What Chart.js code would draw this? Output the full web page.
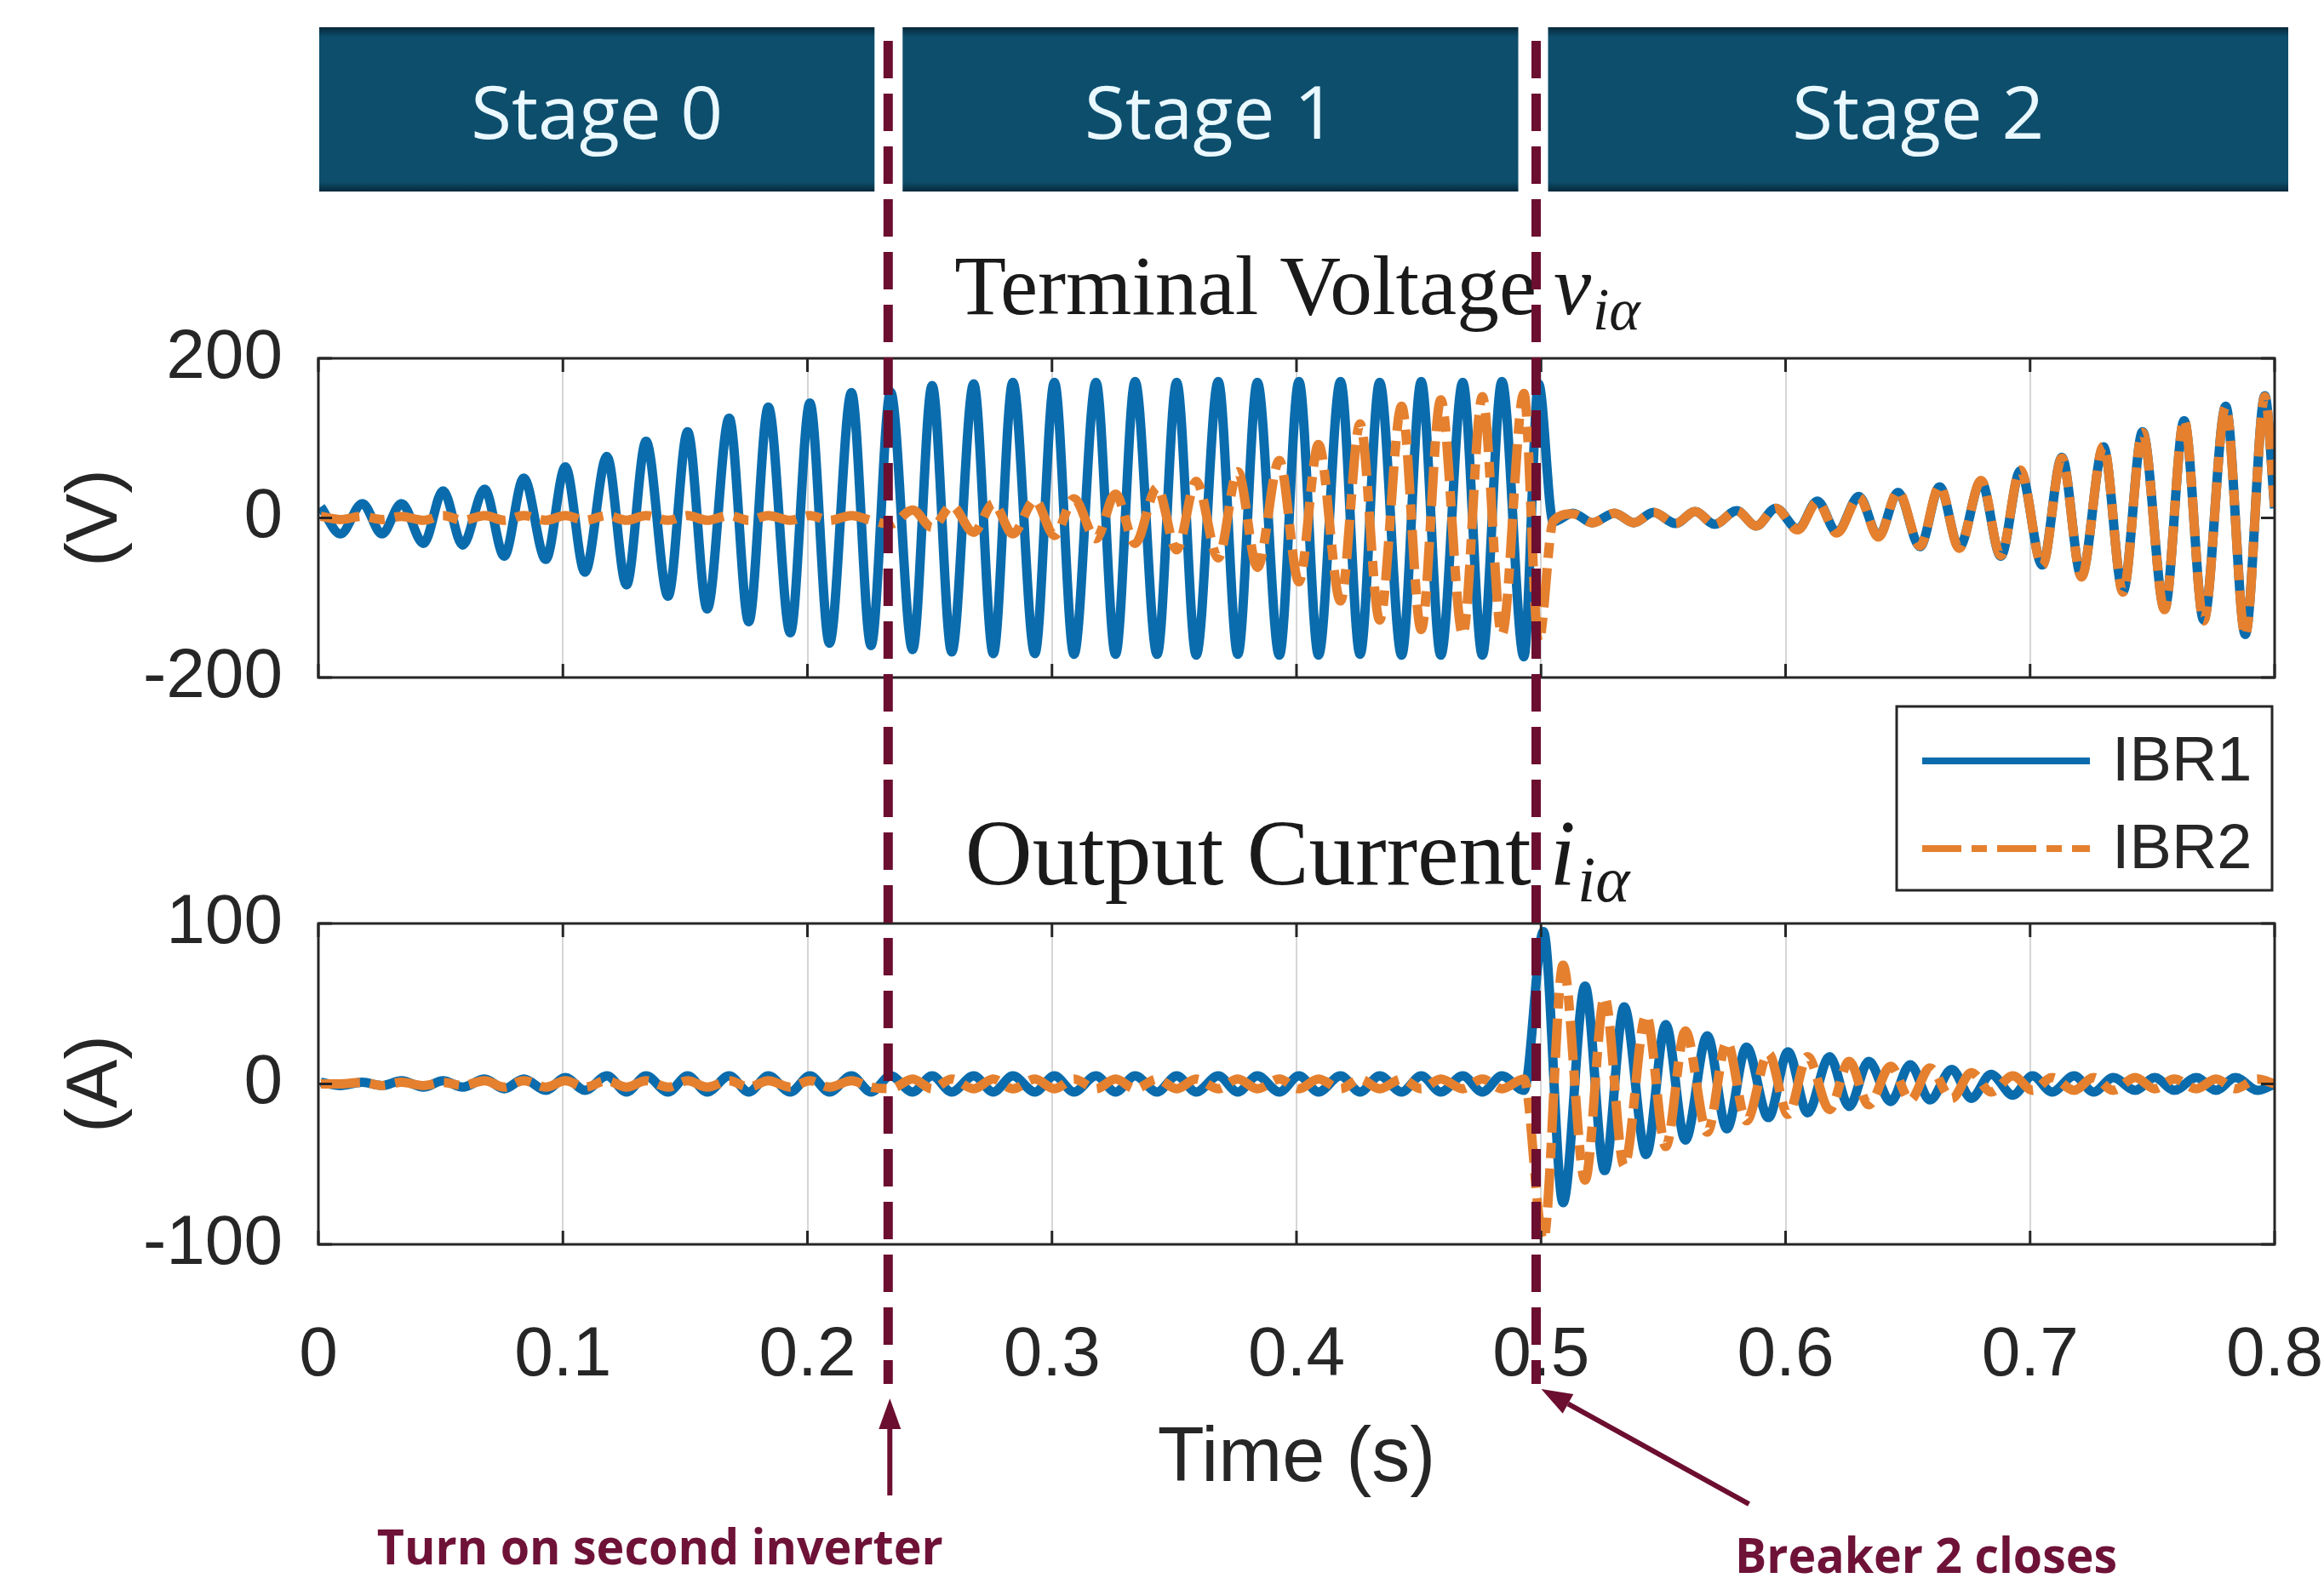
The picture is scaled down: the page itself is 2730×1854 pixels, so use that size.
<!DOCTYPE html>
<html>
<head>
<meta charset="utf-8">
<script src="https://cdn.jsdelivr.net/npm/chart.js@4.4.1/dist/chart.umd.min.js"></script>
<style>
  html, body { margin: 0; padding: 0; background: #fff; }
  #wrap { position: relative; width: 2730px; height: 1854px; }
  #wrap canvas { position: absolute; left: 0; top: 0; }
</style>
</head>
<body>
<div id="wrap">
  <canvas id="voltage" width="2730" height="1854"></canvas>
  <canvas id="current" width="2730" height="1854"></canvas>
</div>
<script>
// ---- values (extrema of each half cycle, 60 Hz) ----
const timeV = [
  0.001, 0.009, 0.018, 0.026, 0.034, 0.043, 0.051, 0.059, 0.068, 0.076, 0.084, 0.093,
  0.101, 0.109, 0.118, 0.126, 0.134, 0.143, 0.151, 0.159, 0.168, 0.176, 0.184, 0.193,
  0.201, 0.209, 0.218, 0.226, 0.234, 0.243, 0.251, 0.259, 0.268, 0.276, 0.284, 0.293,
  0.301, 0.309, 0.318, 0.326, 0.334, 0.343, 0.351, 0.359, 0.368, 0.376, 0.384, 0.393,
  0.401, 0.409, 0.418, 0.426, 0.434, 0.443, 0.451, 0.459, 0.468, 0.476, 0.484, 0.493,
  0.499,
  0.505, 0.513, 0.521, 0.530, 0.538, 0.546, 0.555, 0.563, 0.571, 0.580, 0.588, 0.596,
  0.605, 0.613, 0.621, 0.630, 0.638, 0.646, 0.655, 0.663, 0.671, 0.680, 0.688, 0.696,
  0.705, 0.713, 0.721, 0.730, 0.738, 0.746, 0.755, 0.763, 0.771, 0.780, 0.788, 0.796,
  0.800
];
const vIBR1 = [
  14, -20, 18, -20, 18, -32, 34, -34, 36, -48, 50, -52,
  64, -68, 77, -84, 96, -98, 108, -114, 125, -130, 139, -144,
  144, -157, 157, -160, 158, -165, 166, -168, 168, -170, 170, -170,
  170, -171, 170, -171, 171, -171, 170, -172, 171, -171, 170, -172,
  171, -172, 171, -171, 170, -172, 171, -172, 170, -172, 171, -174,
  168,
  -5, 6, -6, 6, -6, 7, -7, 8, -8, 9, -10, 12,
  -14, 21, -18, 27, -23, 32, -36, 39, -37, 46, -48, 59,
  -59, 76, -73, 89, -92, 108, -114, 122, -128, 140, -146, 153,
  12
];
const vIBR2 = [
  2, -2, 2, -2, 2, -3, 3, -3, 3, -3, 3, -3,
  3, -3, 3, -3, 3, -3, 3, -3, 3, -3, 3, -3,
  3, -3, 3, -3, -8, 10, -12, 15, -18, 18, -20, 22,
  -22, 24, -26, 30, -32, 38, -40, 46, -50, 58, -62, 72,
  -80, 92, -104, 118, -128, 140, -140, 148, -146, 152, -146, 156,
  -155,
  -4, 5, -6, 6, -6, 7, -7, 8, -8, 9, -10, 12,
  -15, 20, -19, 26, -24, 33, -35, 40, -38, 47, -47, 60,
  -60, 75, -74, 90, -93, 107, -115, 123, -129, 139, -147, 152,
  14
];

const timeI = [
  0.001, 0.009, 0.018, 0.026, 0.034, 0.043, 0.051, 0.059, 0.068, 0.076, 0.084, 0.093,
  0.101, 0.109, 0.118, 0.126, 0.134, 0.143, 0.151, 0.159, 0.168, 0.176, 0.184, 0.193,
  0.201, 0.209, 0.218, 0.226, 0.234, 0.243, 0.251, 0.259, 0.268, 0.276, 0.284, 0.293,
  0.301, 0.309, 0.318, 0.326, 0.334, 0.343, 0.351, 0.359, 0.368, 0.376, 0.384, 0.393,
  0.401, 0.409, 0.418, 0.426, 0.434, 0.443, 0.451, 0.459, 0.468, 0.476, 0.484, 0.493,
  0.501, 0.509, 0.518, 0.526, 0.534, 0.543, 0.551, 0.559, 0.568, 0.576, 0.584, 0.593,
  0.601, 0.609, 0.618, 0.626, 0.634, 0.643, 0.651, 0.659, 0.668, 0.676, 0.684, 0.693,
  0.701, 0.709, 0.718, 0.726, 0.734, 0.743, 0.751, 0.759, 0.768, 0.776, 0.784, 0.793,
  0.800
];
const iIBR1 = [
  1, -1, 1, -1, 2, -2, 2, -2, 3, -3, 3, -4,
  4, -4, 5, -5, 5, -5, 5, -5, 5, -5, 5, -5,
  5, -5, 5, -5, 5, -5, 5, -5, 5, -5, 5, -5,
  5, -5, 5, -5, 5, -5, 5, -5, 5, -5, 5, -5,
  5, -5, 5, -5, 5, -5, 5, -5, 5, -5, 5, -4,
  95, -74, 61, -54, 48, -44, 37, -35, 30, -28, 23, -21,
  20, -18, 17, -14, 14, -11, 12, -10, 9, -9, 6, -7,
  5, -5, 5, -5, 4, -4, 4, -4, 4, -4, 4, -4,
  0
];
const iIBR2 = [
  0, 0, 1, -1, 1, -1, 1, -1, 2, -2, 2, -2,
  2, -2, 2, -2, 2, -2, 2, -2, 2, -2, 2, -2,
  2, -2, 2, -2, -3, 3, -3, 3, -3, 3, -3, 3,
  -3, 3, -3, 3, -3, 3, -3, 3, -3, 3, -3, 3,
  -3, 3, -3, 3, -3, 3, -3, 3, -3, 3, -3, 3,
  -97, 74, -60, 54, -51, 43, -39, 33, -30, 26, -23, 19,
  -19, 17, -16, 14, -13, 11, -10, 10, -9, 7, -5, 5,
  -4, 4, -4, 4, -4, 4, -3, 3, -3, 3, -3, 3,
  0
];

const xTicks = [0, 0.1, 0.2, 0.3, 0.4, 0.5, 0.6, 0.7, 0.8];
const voltTicks = [-200, 0, 200];
const currTicks = [-100, 0, 100];
const seriesNames = ['IBR1', 'IBR2'];
const stageNames = ['Stage 0', 'Stage 1', 'Stage 2'];
const eventTimes = [0.233, 0.498];
const eventNotes = ['Turn on second inverter', 'Breaker 2 closes'];

// ---- style ----
const BLUE = '#0a6cad';
const ORANGE = '#e5802f';
const MAROON = '#6c0e30';
const INK = '#262626';
const GRID = '#d6d6d6';
const DASHDOT = [46, 12, 18, 12];
const H = 1854;

Chart.defaults.font.family = '"Liberation Sans", Arial, sans-serif';

function series(times, values, name, color, dash, order) {
  return {
    label: name,
    data: times.map((t, i) => ({ x: t, y: values[i] })),
    borderColor: color,
    borderWidth: 11,
    borderDash: dash,
    borderCapStyle: 'butt',
    borderJoinStyle: 'round',
    cubicInterpolationMode: 'monotone',
    pointRadius: 0,
    fill: false,
    order: order
  };
}

function panelOptions({ yTicks, yTitle, top, bottom, xLabels }) {
  return {
    responsive: false,
    animation: false,
    devicePixelRatio: 1,
    layout: { autoPadding: false, padding: { left: 0, right: 58, top: top, bottom: xLabels ? 0 : H - bottom } },
    plugins: { legend: { display: false }, tooltip: { enabled: false } },
    scales: {
      x: {
        type: 'linear',
        min: xTicks[0],
        max: xTicks[xTicks.length - 1],
        afterBuildTicks: s => { s.ticks = xTicks.map(v => ({ value: v })); },
        afterFit: s => { s.height = xLabels ? H - bottom : 0; },
        // the (invisible) tick length sets the gap above the labels
        grid: { color: GRID, lineWidth: 2, drawTicks: true, tickLength: 82, tickColor: 'rgba(0,0,0,0)' },
        border: { display: false },
        ticks: {
          display: xLabels, padding: 0, maxRotation: 0, autoSkip: false,
          color: INK, font: { size: 82 },
          callback: v => String(Math.round(v * 10) / 10)
        },
        title: { display: xLabels, text: 'Time (s)', color: INK, font: { size: 90 }, padding: { top: 0, bottom: 85 } }
      },
      y: {
        min: yTicks[0],
        max: yTicks[yTicks.length - 1],
        afterBuildTicks: s => { s.ticks = yTicks.map(v => ({ value: v })); },
        afterFit: s => { s.width = 374; },
        grid: { display: false },
        border: { display: false },
        ticks: { padding: 34, color: INK, font: { size: 82 } },
        title: { display: true, text: yTitle, color: INK, font: { size: 86 }, padding: { top: 62, bottom: 0 } }
      }
    }
  };
}

// box round the axes with MATLAB style inward ticks
const axesFrame = {
  id: 'axesFrame',
  afterDatasetsDraw(chart) {
    const { ctx, chartArea: a, scales: { x, y } } = chart;
    ctx.save();
    ctx.strokeStyle = INK;
    ctx.lineWidth = 3;
    ctx.beginPath();
    x.ticks.forEach(t => {
      const px = x.getPixelForValue(t.value);
      ctx.moveTo(px, a.bottom); ctx.lineTo(px, a.bottom - 16);
      ctx.moveTo(px, a.top); ctx.lineTo(px, a.top + 16);
    });
    y.ticks.forEach(t => {
      const py = y.getPixelForValue(t.value);
      ctx.moveTo(a.left, py); ctx.lineTo(a.left + 16, py);
      ctx.moveTo(a.right, py); ctx.lineTo(a.right - 16, py);
    });
    ctx.stroke();
    ctx.strokeRect(a.left, a.top, a.right - a.left, a.bottom - a.top);
    ctx.restore();
  }
};

// serif title with an italic symbol and subscript; words fitted to the measured width
function subplotTitle(words, sym, sub, wordsWidth, lift) {
  return {
    id: 'subplotTitle',
    afterDraw(chart) {
      const { ctx, chartArea: a } = chart;
      ctx.save();
      ctx.font = '100px "Liberation Serif"';
      const size = 100 * wordsWidth / ctx.measureText(words).width;
      const main = `${size}px "Liberation Serif"`;
      const ital = `italic ${size}px "Liberation Serif"`;
      const small = `italic ${size * 0.7}px "Liberation Serif"`;
      ctx.font = main; const w1 = ctx.measureText(words).width;
      ctx.font = ital; const w2 = ctx.measureText(sym).width;
      ctx.font = small; const w3 = ctx.measureText(sub).width;
      const gap = size * 0.2;
      let x0 = (a.left + a.right) / 2 - (w1 + gap + w2 + w3) / 2;
      const base = a.top - lift;
      ctx.fillStyle = '#1a1a1a';
      ctx.textAlign = 'left';
      ctx.textBaseline = 'alphabetic';
      ctx.font = main; ctx.fillText(words, x0, base); x0 += w1 + gap;
      ctx.font = ital; ctx.fillText(sym, x0, base); x0 += w2 + size * 0.02;
      ctx.font = small; ctx.fillText(sub, x0, base + size * 0.18);
      ctx.restore();
    }
  };
}

function drawScaledText(ctx, text, cx, baseline, sx, font, color) {
  ctx.save();
  ctx.font = font;
  ctx.translate(cx, baseline);
  ctx.scale(sx, 1);
  ctx.fillStyle = color;
  ctx.textAlign = 'center';
  ctx.textBaseline = 'alphabetic';
  ctx.fillText(text, 0, 0);
  ctx.restore();
}

const stageBanner = {
  id: 'stageBanner',
  afterDraw(chart) {
    const { ctx, scales: { x } } = chart;
    const e = [x.getPixelForValue(xTicks[0]), x.getPixelForValue(eventTimes[0]),
               x.getPixelForValue(eventTimes[1]), x.getPixelForValue(xTicks[xTicks.length - 1])];
    const boxes = [[e[0] + 1, e[1] - 16], [e[1] + 17, e[2] - 21], [e[2] + 14, e[3] + 16]];
    const top = 32, bottom = 225;
    const font = '400 86px "Open Sans"';
    ctx.save();
    ctx.font = font;
    const sx = 296 / ctx.measureText(stageNames[0]).width;
    boxes.forEach(([l, r], i) => {
      const g = ctx.createLinearGradient(0, top, 0, bottom);
      g.addColorStop(0, '#06283a');
      g.addColorStop(0.06, '#0d4e6c');
      g.addColorStop(0.94, '#0d4e6c');
      g.addColorStop(1, '#06283a');
      ctx.fillStyle = g;
      ctx.fillRect(l, top, r - l, bottom - top);
      drawScaledText(ctx, stageNames[i], (l + r) / 2, 163, sx, font, '#eaf8ff');
    });
    ctx.restore();
  }
};

const legendBox = {
  id: 'legendBox',
  afterDraw(chart) {
    const { ctx, chartArea: a } = chart;
    const l = a.right - 444, r = a.right - 3, t = a.bottom + 34, b = a.bottom + 250;
    ctx.save();
    ctx.fillStyle = '#fff';
    ctx.fillRect(l, t, r - l, b - t);
    ctx.strokeStyle = INK;
    ctx.lineWidth = 3;
    ctx.strokeRect(l, t, r - l, b - t);
    const order = chart.data.datasets.slice().sort((p, q) => p.label.localeCompare(q.label));
    order.forEach((ds, i) => {
      const y = t + 64 + i * 103;
      ctx.strokeStyle = ds.borderColor;
      ctx.lineWidth = 8;
      ctx.setLineDash(ds.borderDash || []);
      ctx.beginPath(); ctx.moveTo(l + 30, y); ctx.lineTo(l + 227, y); ctx.stroke();
      ctx.setLineDash([]);
      ctx.fillStyle = INK;
      ctx.font = '74px "Liberation Sans"';
      ctx.textAlign = 'left';
      ctx.textBaseline = 'middle';
      ctx.fillText(ds.label, l + 253, y + 3);
    });
    ctx.restore();
  }
};

function arrow(ctx, x0, y0, x1, y1) {
  const ang = Math.atan2(y1 - y0, x1 - x0), L = 36, W = 13;
  const bx = x1 - L * Math.cos(ang), by = y1 - L * Math.sin(ang);
  ctx.beginPath(); ctx.moveTo(x0, y0); ctx.lineTo(bx, by); ctx.stroke();
  ctx.beginPath();
  ctx.moveTo(x1, y1);
  ctx.lineTo(bx + W * Math.sin(ang), by - W * Math.cos(ang));
  ctx.lineTo(bx - W * Math.sin(ang), by + W * Math.cos(ang));
  ctx.closePath();
  ctx.fill();
}

const eventMarks = {
  id: 'eventMarks',
  afterDraw(chart) {
    const { ctx, scales: { x } } = chart;
    const p = eventTimes.map(t => x.getPixelForValue(t));
    ctx.save();
    ctx.strokeStyle = MAROON;
    ctx.lineWidth = 11;
    ctx.setLineDash([44, 18]);
    p.forEach(px => { ctx.beginPath(); ctx.moveTo(px, 48); ctx.lineTo(px, 1626); ctx.stroke(); });
    ctx.setLineDash([]);
    ctx.strokeStyle = MAROON;
    ctx.fillStyle = MAROON;
    ctx.lineWidth = 6;
    arrow(ctx, p[0] + 2, 1757, p[0] + 2, 1643);
    arrow(ctx, p[1] + 250, 1767, p[1] + 6, 1632);
    const font = '700 58px "Open Sans"';
    ctx.font = font;
    const s0 = 665 / ctx.measureText(eventNotes[0]).width;
    const s1 = 449 / ctx.measureText(eventNotes[1]).width;
    drawScaledText(ctx, eventNotes[0], p[0] - 268, 1838, s0, font, '#6e1238');
    drawScaledText(ctx, eventNotes[1], p[1] + 458, 1848, s1, font, '#6e1238');
    ctx.restore();
  }
};

new Chart(document.getElementById('voltage'), {
  type: 'line',
  data: {
    datasets: [
      series(timeV, vIBR1, seriesNames[0], BLUE, [], 2),
      series(timeV, vIBR2, seriesNames[1], ORANGE, DASHDOT, 1)
    ]
  },
  options: panelOptions({ yTicks: voltTicks, yTitle: '(V)', top: 421, bottom: 796, xLabels: false }),
  plugins: [axesFrame, subplotTitle('Terminal Voltage', 'v', 'iα', 684, 52), stageBanner, legendBox]
});

new Chart(document.getElementById('current'), {
  type: 'line',
  data: {
    datasets: [
      series(timeI, iIBR1, seriesNames[0], BLUE, [], 2),
      series(timeI, iIBR2, seriesNames[1], ORANGE, DASHDOT, 1)
    ]
  },
  options: panelOptions({ yTicks: currTicks, yTitle: '(A)', top: 1085, bottom: 1462, xLabels: true }),
  plugins: [axesFrame, subplotTitle('Output Current', 'i', 'iα', 665, 46), eventMarks]
});
</script>
</body>
</html>
